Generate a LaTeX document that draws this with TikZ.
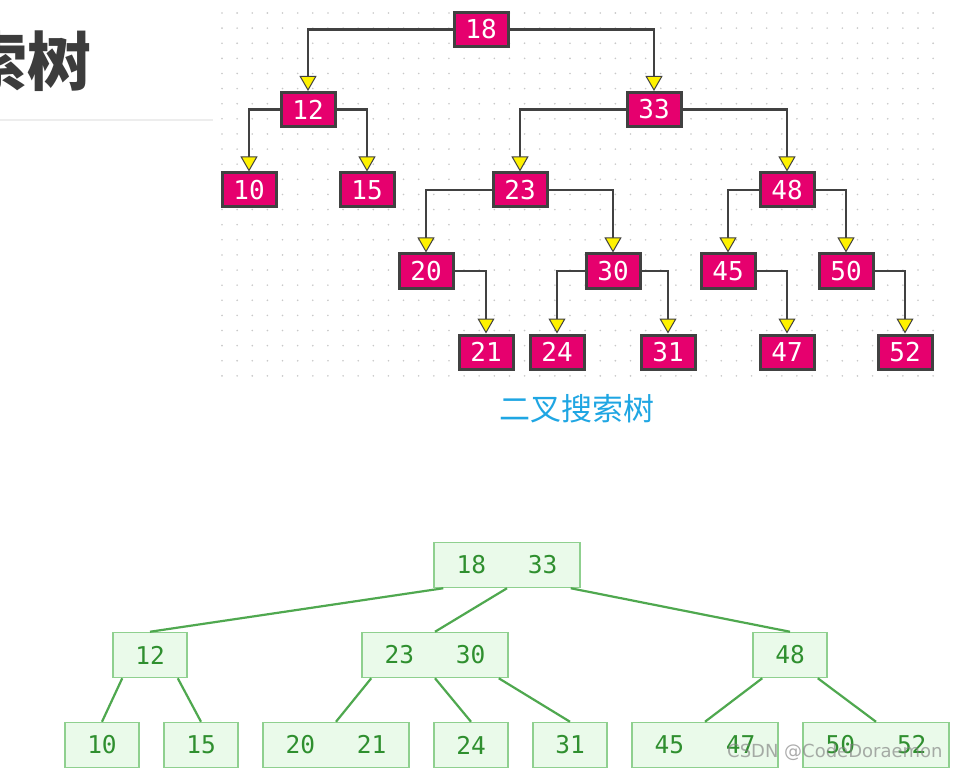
\documentclass[tikz,border=0pt]{standalone}
\usepackage{fontspec}
\setmonofont{DejaVu Sans Mono}
\newfontfamily\cjk{Noto Sans CJK SC}
\newfontfamily\wmfont{DejaVu Sans}
\usetikzlibrary{arrows.meta}
\definecolor{pinkbox}{HTML}{E6006E}
\definecolor{edgegray}{HTML}{414141}
\definecolor{gfill}{HTML}{EAFAEA}
\definecolor{gdraw}{HTML}{8FD08F}
\definecolor{gtext}{HTML}{2F8F2F}
\definecolor{gline}{HTML}{4FA84F}
\definecolor{capblue}{HTML}{1FA6E3}
\definecolor{titlegray}{HTML}{3C3C3C}
\definecolor{dotgray}{HTML}{C8C8C8}
\newcommand\twokeys[2]{\makebox[101pt]{#1\hfill#2}}
\begin{document}
\begin{tikzpicture}[x=1pt,y=-1pt,
  bst/.style={draw=edgegray, line width=3pt, fill=pinkbox, text=white,
    font=\fontsize{26}{26}\selectfont\ttfamily, minimum width=54pt, minimum height=34pt, inner sep=0pt},
  bedge/.style={draw=edgegray, line width=2.8pt,
    -{Triangle[width=17pt,length=15pt,fill=yellow,line width=1pt]}},
  gbox/.style={draw=gdraw, line width=1.5pt, fill=gfill, text=gtext,
    font=\fontsize{24.5}{24.5}\selectfont\ttfamily, minimum height=45pt, minimum width=74pt, inner sep=0pt},
  gwide/.style={gbox, minimum width=146pt},
  gedge/.style={draw=gline, line width=2.2pt}]
\useasboundingbox (0,0) rectangle (956,770);
\fill[white] (0,0) rectangle (956,770);
% title (cut off)
\begin{scope}
\clip (0,0) rectangle (215,118);
\node[anchor=east, font=\cjk\bfseries\fontsize{64}{64}\selectfont, text=titlegray, inner sep=0pt] (title) at (92,61) {索树};
\end{scope}
\draw[line width=2pt, color=black!7] (0,120) -- (213,120);
% dotted grid
\foreach \i in {0,...,47} {
  \foreach \j in {0,...,24} {
    \fill[dotgray] (222+\i*15.13, 13+\j*15.12) circle (0.9pt);
  }
}
% binary search tree
\node[bst] (n18) at (481,29.5) {18};
\node[bst] (n12) at (308,109.5) {12};
\node[bst] (n33) at (654,109.5) {33};
\node[bst] (n10) at (249,190) {10};
\node[bst] (n15) at (367,190) {15};
\node[bst] (n23) at (520,190) {23};
\node[bst] (n48) at (787,190) {48};
\node[bst] (n20) at (426,271) {20};
\node[bst] (n30) at (613,271) {30};
\node[bst] (n45) at (728,271) {45};
\node[bst] (n50) at (846,271) {50};
\node[bst] (n21) at (486,352) {21};
\node[bst] (n24) at (557,352) {24};
\node[bst] (n31) at (668,352) {31};
\node[bst] (n47) at (787,352) {47};
\node[bst] (n52) at (905,352) {52};
\draw[bedge] (n18.west) -| (n12.north);
\draw[bedge] (n18.east) -| (n33.north);
\draw[bedge] (n12.west) -| (n10.north);
\draw[bedge] (n12.east) -| (n15.north);
\draw[bedge] (n33.west) -| (n23.north);
\draw[bedge] (n33.east) -| (n48.north);
\draw[bedge] (n23.west) -| (n20.north);
\draw[bedge] (n23.east) -| (n30.north);
\draw[bedge] (n48.west) -| (n45.north);
\draw[bedge] (n48.east) -| (n50.north);
\draw[bedge] (n20.east) -| (n21.north);
\draw[bedge] (n30.west) -| (n24.north);
\draw[bedge] (n30.east) -| (n31.north);
\draw[bedge] (n45.east) -| (n47.north);
\draw[bedge] (n50.east) -| (n52.north);
\node[font=\cjk\fontsize{31}{31}\selectfont, text=capblue] (cap) at (577,409) {二叉搜索树};
% B-tree
\node[gwide] (r) at (507,565) {\twokeys{18}{33}};
\node[gbox] (b12) at (150,655) {12};
\node[gwide] (b2330) at (435,655) {\twokeys{23}{30}};
\node[gbox] (b48) at (790,655) {48};
\node[gbox] (b10) at (102,745) {10};
\node[gbox] (b15) at (201,745) {15};
\node[gwide] (b2021) at (336,745) {\twokeys{20}{21}};
\node[gbox] (b24) at (471,745) {24};
\node[gbox] (b31) at (570,745) {31};
\node[gwide] (b4547) at (705,745) {\twokeys{45}{47}};
\node[gwide] (b5052) at (876,745) {\twokeys{50}{52}};
\draw[gedge] ([xshift=10pt]r.south west) -- (b12.north);
\draw[gedge] (r.south) -- (b2330.north);
\draw[gedge] ([xshift=-10pt]r.south east) -- (b48.north);
\draw[gedge] ([xshift=10pt]b12.south west) -- (b10.north);
\draw[gedge] ([xshift=-10pt]b12.south east) -- (b15.north);
\draw[gedge] ([xshift=10pt]b2330.south west) -- (b2021.north);
\draw[gedge] (b2330.south) -- (b24.north);
\draw[gedge] ([xshift=-10pt]b2330.south east) -- (b31.north);
\draw[gedge] ([xshift=10pt]b48.south west) -- (b4547.north);
\draw[gedge] ([xshift=-10pt]b48.south east) -- (b5052.north);
% watermark
\node[font=\wmfont\fontsize{18}{18}\selectfont, text=gray, opacity=0.65, anchor=west, inner sep=0pt] (wm) at (727,752) {CSDN @CodeDoraemon};
\end{tikzpicture}
\end{document}
